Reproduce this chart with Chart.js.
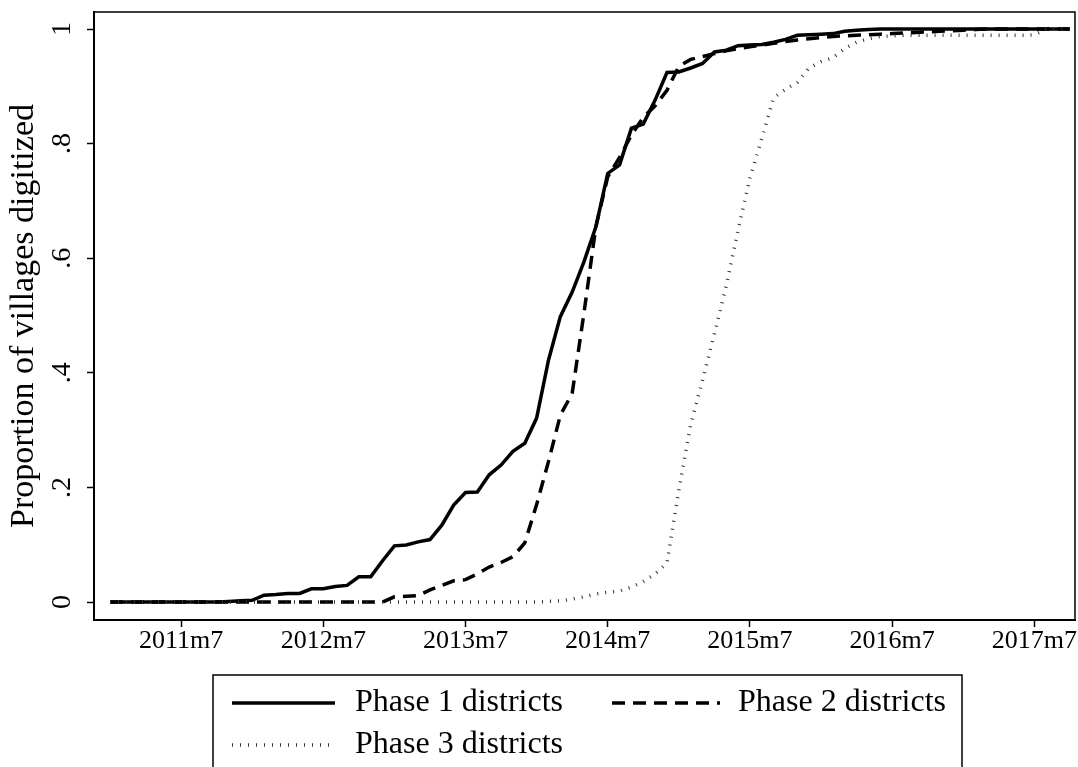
<!DOCTYPE html>
<html>
<head>
<meta charset="utf-8">
<script src="https://cdn.jsdelivr.net/npm/chart.js@4.4.1/dist/chart.umd.min.js"></script>
<style>
  html, body { margin: 0; padding: 0; background: #ffffff; }
  #wrap { width: 1078px; height: 767px; }
</style>
</head>
<body>
<div id="wrap"><canvas id="c" width="1078" height="767"></canvas></div>
<script>
// ---------- DATA ----------
const startYear = 2011;
const startMonth = 1;
const monthCount = 82; // 2011m1 .. 2017m10
const months = [];
for (let i = 0; i < monthCount; i++) {
  const y = startYear + Math.floor((startMonth - 1 + i) / 12);
  const m = ((startMonth - 1 + i) % 12) + 1;
  months.push(y + 'm' + m);
}

const xTickLabels = ['2011m7', '2012m7', '2013m7', '2014m7', '2015m7', '2016m7', '2017m7'];
const yTickValues = [0, 0.2, 0.4, 0.6, 0.8, 1];
const yTickLabels = ['0', '.2', '.4', '.6', '.8', '1'];
const seriesNames = ['Phase 1 districts', 'Phase 2 districts', 'Phase 3 districts'];
const yTitle = 'Proportion of villages digitized';

const phase1 = [
  0, 0, 0, 0, 0, 0, 0, 0, 0, 0,
  0.001, 0.002, 0.003,
  0.012, 0.013, 0.015, 0.015, 0.023, 0.023, 0.027, 0.029, 0.044, 0.044,
  0.072, 0.098, 0.0995, 0.105, 0.109, 0.134, 0.169, 0.191, 0.192, 0.222,
  0.239, 0.263, 0.277, 0.321, 0.422, 0.498, 0.541, 0.594, 0.655, 0.748,
  0.763, 0.827, 0.834, 0.876, 0.924, 0.925, 0.932, 0.940, 0.960, 0.963,
  0.971, 0.972, 0.973, 0.977, 0.982, 0.989, 0.990, 0.991, 0.992, 0.996,
  0.998, 0.999,
  1, 1, 1, 1, 1, 1, 1, 1, 1, 1, 1, 1, 1, 1, 1, 1, 1
];

const phase2 = [
  0, 0, 0, 0, 0, 0, 0, 0, 0, 0, 0, 0, 0, 0, 0, 0, 0, 0, 0, 0, 0, 0, 0,
  0, 0.009, 0.010, 0.011, 0.021, 0.029, 0.037, 0.039, 0.049, 0.061,
  0.069, 0.079, 0.103, 0.17, 0.245, 0.326, 0.364, 0.505, 0.655, 0.742,
  0.776, 0.815, 0.846, 0.866, 0.893, 0.935, 0.947, 0.952, 0.957, 0.962,
  0.966, 0.969, 0.972, 0.975, 0.978, 0.981, 0.983, 0.985, 0.987, 0.988,
  0.989, 0.990, 0.991, 0.992, 0.993, 0.994, 0.995, 0.996, 0.997, 0.998,
  0.999,
  1, 1, 1, 1, 1, 1, 1, 1
];

const phase3 = [
  0, 0, 0, 0, 0, 0, 0, 0, 0, 0, 0, 0, 0, 0, 0, 0, 0, 0, 0, 0,
  0, 0, 0, 0, 0, 0, 0, 0, 0, 0, 0, 0, 0, 0, 0, 0, 0,
  0.001, 0.002, 0.005, 0.009, 0.014, 0.017, 0.019, 0.026, 0.036, 0.049,
  0.068, 0.195, 0.31, 0.387, 0.468, 0.552, 0.649, 0.74, 0.809, 0.88,
  0.895, 0.907, 0.932, 0.943, 0.950, 0.966, 0.977, 0.983, 0.987, 0.988,
  0.989, 0.989, 0.989, 0.989, 0.989, 0.989, 0.989, 0.989, 0.989, 0.989, 0.989,
  0.990, 1, 1, 1
];

// ---------- CHART ----------
const FONT = '"Liberation Serif", "Times New Roman", Times, serif';
Chart.defaults.font.family = FONT;
Chart.defaults.color = '#000';

const toPoints = arr => arr.map((v, i) => ({ x: i, y: v }));

const lineStyles = [
  { borderColor: '#000', borderWidth: 3.5, borderDash: [] },
  { borderColor: '#000', borderWidth: 3.5, borderDash: [13, 8] },
  { borderColor: '#333', borderWidth: 3.5, borderDash: [1, 7] }
];
const seriesData = [phase1, phase2, phase3];

const datasets = seriesData.map((arr, k) => ({
  label: seriesNames[k],
  data: toPoints(arr),
  borderColor: lineStyles[k].borderColor,
  borderWidth: lineStyles[k].borderWidth,
  borderDash: lineStyles[k].borderDash,
  borderCapStyle: 'butt',
  borderJoinStyle: 'miter',
  pointRadius: 0,
  fill: false,
  tension: 0,
  order: 3 - k
}));

const framePlugin = {
  id: 'frame',
  beforeDatasetsDraw(chart) {
    const { ctx, chartArea: a } = chart;
    ctx.save();
    ctx.strokeStyle = '#000';
    ctx.lineWidth = 1.5;
    ctx.strokeRect(a.left, a.top, a.right - a.left, a.bottom - a.top);
    ctx.restore();
  }
};

const legendPlugin = {
  id: 'stataLegend',
  afterDraw(chart) {
    const ctx = chart.ctx;
    const box = { left: 213, top: 675, right: 962, bottom: 790 };
    const items = [
      { ds: 0, x: 232, y: 703, w: 103, tx: 355 },
      { ds: 1, x: 612, y: 703, w: 108, tx: 738 },
      { ds: 2, x: 232, y: 745, w: 103, tx: 355 }
    ];
    ctx.save();
    ctx.strokeStyle = '#000';
    ctx.lineWidth = 1.5;
    ctx.strokeRect(box.left, box.top, box.right - box.left, box.bottom - box.top);
    items.forEach(it => {
      const d = chart.data.datasets[it.ds];
      ctx.save();
      ctx.strokeStyle = d.borderColor;
      ctx.lineWidth = d.borderWidth;
      ctx.setLineDash(d.borderDash || []);
      ctx.lineCap = 'butt';
      ctx.beginPath();
      ctx.moveTo(it.x, it.y);
      ctx.lineTo(it.x + it.w, it.y);
      ctx.stroke();
      ctx.restore();
      ctx.fillStyle = '#000';
      ctx.font = '32px ' + FONT;
      ctx.textBaseline = 'middle';
      ctx.textAlign = 'left';
      ctx.fillText(d.label, it.tx, it.y);
    });
    ctx.restore();
  }
};

new Chart(document.getElementById('c'), {
  type: 'line',
  data: { datasets },
  plugins: [framePlugin, legendPlugin],
  options: {
    responsive: false,
    devicePixelRatio: 1,
    animation: false,
    layout: { padding: { left: 0, right: 3, top: 12, bottom: 0 } },
    plugins: { legend: { display: false }, tooltip: { enabled: false } },
    scales: {
      x: {
        type: 'linear',
        min: -1.35,
        max: 81.43,
        afterBuildTicks: s => { s.ticks = xTickLabels.map(l => ({ value: months.indexOf(l) })); },
        afterFit: s => { s.height = 147; s.paddingLeft = 0; s.paddingRight = 0; },
        ticks: {
          autoSkip: false,
          maxRotation: 0,
          minRotation: 0,
          padding: 1,
          font: { size: 26, lineHeight: 1 },
          callback: v => months[v]
        },
        grid: { drawOnChartArea: false, drawTicks: true, tickLength: 7, tickColor: '#000', tickWidth: 1.5 },
        border: { display: true, color: '#000', width: 2 }
      },
      y: {
        type: 'linear',
        min: -0.0314,
        max: 1.0297,
        afterBuildTicks: s => { s.ticks = yTickValues.map(v => ({ value: v })); },
        afterFit: s => { s.width = 94; s.paddingTop = 0; s.paddingBottom = 0; },
        ticks: {
          minRotation: 90,
          maxRotation: 90,
          crossAlign: 'center',
          padding: 14,
          font: { size: 28, lineHeight: 1 },
          callback: (v, i) => yTickLabels[i]
        },
        title: {
          display: true,
          text: yTitle,
          font: { size: 34, lineHeight: 1.2 },
          padding: { top: 4, bottom: 0 }
        },
        grid: { drawOnChartArea: false, drawTicks: true, tickLength: 7, tickColor: '#000', tickWidth: 1.5 },
        border: { display: true, color: '#000', width: 2 }
      }
    }
  }
});
</script>
</body>
</html>
